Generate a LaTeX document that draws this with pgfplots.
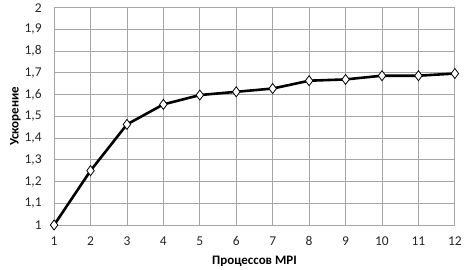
\documentclass[border=0pt]{standalone}
\usepackage{fontspec}
\setmainfont{Carlito}
\usepackage{pgfplots}
\pgfplotsset{compat=1.18}
\begin{document}
\begin{tikzpicture}
\begin{axis}[
  scale only axis,
  width=402pt, height=218pt,
  xmin=1, xmax=12, ymin=1, ymax=2,
  xtick={1,...,12},
  ytick={1,1.1,...,2.01},
  /pgf/number format/assume math mode=true,
  /pgf/number format/use comma,
  yticklabel style={/pgf/number format/fixed, /pgf/number format/precision=1, xshift=-9pt},
  xticklabel style={yshift=-8pt},
  grid=major,
  major grid style={draw=black!35, line width=0.9pt},
  axis line style={draw=black!35, line width=0.9pt},
  tick style={draw=none},
  ticklabel style={font=\fontsize{13.5}{15}\selectfont, text=black!85},
  xlabel={\textbf{Процессов MPI}},
  ylabel={\textbf{Ускорение}},
  label style={font=\fontsize{13}{15}\selectfont},
  xlabel style={yshift=-3pt},
  ylabel style={yshift=-3pt},
]
\addplot[black, line width=2.6pt, mark=diamond*, mark size=5pt,
  mark options={fill=white, draw=black, line width=0.8pt}]
coordinates {
(1,1.000) (2,1.250) (3,1.463) (4,1.555) (5,1.598) (6,1.613)
(7,1.628) (8,1.664) (9,1.670) (10,1.687) (11,1.687) (12,1.697)
};
\end{axis}
\path ([xshift=-7pt]current bounding box.west);
\end{tikzpicture}
\end{document}
